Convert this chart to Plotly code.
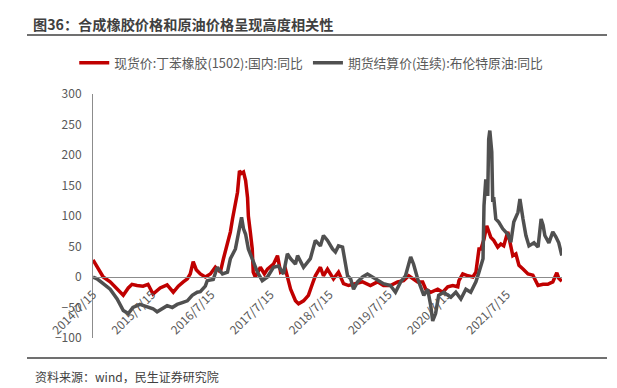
import plotly.graph_objects as go

# ---------------- data ----------------
rubber_dates = [
    "2014-07-15", "2014-08-02", "2014-08-28", "2014-09-16", "2014-10-29", "2014-12-11",
    "2015-01-18", "2015-02-18", "2015-03-13", "2015-04-13", "2015-05-20", "2015-06-20",
    "2015-07-21", "2015-09-03", "2015-10-16", "2015-11-23", "2015-12-24", "2016-01-24",
    "2016-02-18", "2016-03-07", "2016-03-25", "2016-04-13", "2016-05-08", "2016-06-08",
    "2016-07-09", "2016-08-09", "2016-09-09", "2016-09-28", "2016-10-23", "2016-11-10",
    "2016-11-23", "2016-12-11", "2016-12-24", "2017-01-05", "2017-01-18", "2017-01-30",
    "2017-02-12", "2017-02-24", "2017-03-01", "2017-03-13", "2017-03-25", "2017-03-31",
    "2017-04-13", "2017-05-14", "2017-06-08", "2017-06-27", "2017-08-03", "2017-08-28",
    "2017-09-16", "2017-10-16", "2017-11-17", "2017-12-17", "2018-01-05", "2018-02-05",
    "2018-03-07", "2018-04-01", "2018-04-19", "2018-05-20", "2018-06-08", "2018-07-03",
    "2018-07-21", "2018-08-09", "2018-09-09", "2018-10-10", "2018-11-10", "2018-12-23",
    "2019-02-05", "2019-03-25", "2019-05-08", "2019-06-14", "2019-07-27", "2019-09-09",
    "2019-10-16", "2019-11-17", "2019-12-11", "2020-01-11", "2020-02-11", "2020-03-01",
    "2020-04-01", "2020-05-14", "2020-06-14", "2020-07-15", "2020-08-15", "2020-09-15",
    "2020-09-22", "2020-10-16", "2020-11-17", "2020-12-17", "2021-01-05", "2021-01-24",
    "2021-02-05", "2021-02-24", "2021-03-13", "2021-04-07", "2021-04-25", "2021-05-20",
    "2021-06-08", "2021-06-26", "2021-07-21", "2021-08-09", "2021-08-21", "2021-09-09",
    "2021-09-28", "2021-10-23", "2021-11-23", "2021-12-23", "2022-01-24", "2022-02-24",
    "2022-03-25", "2022-04-25", "2022-05-20", "2022-06-01", "2022-06-20",
]
rubber_yoy = [
    28, 20, 8, 0, -8, -20,
    -30, -18, -12, -14, -15, -12,
    -28, -18, -13, -25, -15, -8,
    -3, 5, 25, 12, 5, 0,
    5, 16, 8, 30, 57, 74,
    95, 123, 139, 174, 170, 172,
    158, 130, 100, 74, 46, 8,
    0, 16, 5, 13, 21, 35,
    8, 13, -20, -39, -44, -39,
    -30, -11, 2, 16, 2, 13,
    5, -3, 8, -11, -14, -11,
    -8, -14, -8, -14, -14, -8,
    -6, 2, -3, -8, -8, -20,
    -25, -20, -25, -16, -14, -16,
    -6, 5, 2, 0, 8, 46,
    46, 62, 84, 65, 60, 49,
    54, 51, 74, 49, 35, 38,
    19, 13, 5, 3, -14, -12,
    -12, -8, 7, -2, -7,
]

brent_dates = [
    "2014-07-15", "2014-08-09", "2014-09-16", "2014-10-29", "2014-12-11", "2015-01-18",
    "2015-02-18", "2015-03-19", "2015-05-01", "2015-06-14", "2015-07-21", "2015-08-15",
    "2015-09-16", "2015-10-16", "2015-11-17", "2015-12-17", "2016-01-18", "2016-02-18",
    "2016-03-19", "2016-04-19", "2016-05-08", "2016-06-08", "2016-06-20", "2016-07-27",
    "2016-08-21", "2016-09-22", "2016-10-23", "2016-11-10", "2016-12-11", "2016-12-30",
    "2017-01-18", "2017-01-30", "2017-02-12", "2017-03-01", "2017-03-25", "2017-04-26",
    "2017-05-26", "2017-06-27", "2017-08-03", "2017-09-03", "2017-10-04", "2017-10-28",
    "2017-11-17", "2017-12-17", "2017-12-30", "2018-02-05", "2018-03-19", "2018-04-19",
    "2018-05-20", "2018-06-08", "2018-07-03", "2018-08-03", "2018-08-21", "2018-09-09",
    "2018-10-04", "2018-10-16", "2018-11-04", "2018-11-23", "2018-12-11", "2019-01-05",
    "2019-02-05", "2019-03-07", "2019-04-07", "2019-05-08", "2019-06-14", "2019-07-27",
    "2019-08-27", "2019-09-28", "2019-10-28", "2019-11-29", "2019-12-17", "2020-01-11",
    "2020-01-30", "2020-02-18", "2020-03-13", "2020-04-01", "2020-04-13", "2020-05-01",
    "2020-05-20", "2020-06-20", "2020-08-03", "2020-09-03", "2020-10-04", "2020-11-04",
    "2020-12-04", "2021-01-05", "2021-01-24", "2021-02-18", "2021-02-24", "2021-03-07",
    "2021-03-19", "2021-03-25", "2021-04-01", "2021-04-13", "2021-04-19", "2021-04-25",
    "2021-05-08", "2021-05-26", "2021-06-20", "2021-07-21", "2021-08-09", "2021-08-27",
    "2021-09-22", "2021-10-04", "2021-10-23", "2021-11-10", "2021-11-29", "2021-12-30",
    "2022-01-24", "2022-02-12", "2022-02-24", "2022-03-07", "2022-04-01", "2022-04-25",
    "2022-05-14", "2022-06-01", "2022-06-20",
]
brent_yoy = [
    0, -3, -11, -20, -36, -55,
    -60, -50, -45, -48, -52, -57,
    -52, -47, -50, -45, -42, -39,
    -30, -25, -24, -15, -6, -4,
    16, 5, 8, 30, 46, 74,
    98, 79, 70, 46, 30, 8,
    -6, 0, 16, 18, 5, 38,
    30, 21, 35, 16, 30, 60,
    51, 68, 60, 46, 41, 51,
    49, 30, 2, -3, -20, -8,
    0, 5, 0, -6, -11, -14,
    -25, -8, 2, 33, 21, -3,
    -16, -30, -20, -47, -72, -60,
    -30, -25, -33, -25, -36, -20,
    -25, -8, 8, 30, 117, 160,
    133, 226, 240, 205, 123, 131,
    95, 90, 79, 70, 57, 90,
    106, 128, 95, 68, 51, 56,
    49, 95, 85, 68, 56, 74,
    66, 56, 35,
]

tick_dates = ["2014-07-15", "2015-07-15", "2016-07-15", "2017-07-15",
              "2018-07-15", "2019-07-15", "2020-07-15", "2021-07-15"]
tick_labels = ["2014/7/15", "2015/7/15", "2016/7/15", "2017/7/15",
               "2018/7/15", "2019/7/15", "2020/7/15", "2021/7/15"]

series_names = ["现货价:丁苯橡胶(1502):国内:同比", "期货结算价(连续):布伦特原油:同比"]
title_text = "图36：合成橡胶价格和原油价格呈现高度相关性"
source_text = "资料来源：wind，民生证券研究院"

# ---------------- figure ----------------
FONT = "Noto Sans CJK SC"
fig = go.Figure()
fig.add_trace(go.Scatter(x=rubber_dates, y=rubber_yoy, mode="lines", name=series_names[0],
                         line=dict(color="#C00000", width=3.5)))
fig.add_trace(go.Scatter(x=brent_dates, y=brent_yoy, mode="lines", name=series_names[1],
                         line=dict(color="#505050", width=3.5)))

fig.update_layout(
    width=617, height=388,
    margin=dict(l=93, r=55, t=94, b=50, autoexpand=False),
    paper_bgcolor="white", plot_bgcolor="white",
    font=dict(family=FONT, color="#595959", size=12),
    showlegend=True,
    legend=dict(orientation="h", x=-0.04, y=1.127, xanchor="left", yanchor="middle",
                font=dict(size=12.8, color="#595959", family=FONT),
                bgcolor="rgba(0,0,0,0)", itemwidth=30),
    xaxis=dict(type="date", range=["2014-07-15", "2022-06-21"],
               tickmode="array", tickvals=tick_dates, ticktext=tick_labels,
               tickangle=-45, showgrid=False, zeroline=False,
               showline=True, linecolor="#8c8c8c", linewidth=1,
               anchor="free", position=0.25, ticks="", ticklabelstandoff=5,
               tickfont=dict(size=12, color="#595959", family=FONT)),
    yaxis=dict(range=[-100, 300], dtick=50, tick0=-100, showgrid=False, zeroline=False,
               showline=True, linecolor="#8c8c8c", linewidth=1, ticks="",
               ticklabelstandoff=8,
               tickfont=dict(size=12, color="#595959", family=FONT)),
)

def px_x(p):
    return (p - 93) / 469.0

def px_y(p):
    return (338 - p) / 244.0

fig.add_annotation(text="<b>" + title_text + "</b>", xref="paper", yref="paper",
                   x=px_x(31), y=px_y(24), xanchor="left", yanchor="middle", showarrow=False,
                   font=dict(size=14.2, color="#404040", family=FONT))
fig.add_annotation(text=source_text, xref="paper", yref="paper",
                   x=px_x(33), y=px_y(376), xanchor="left", yanchor="middle", showarrow=False,
                   font=dict(size=12, color="#404040", family=FONT))
fig.add_shape(type="line", xref="paper", yref="paper", x0=px_x(27), x1=px_x(607),
              y0=px_y(35), y1=px_y(35), line=dict(color="#404040", width=1.3))
fig.add_shape(type="line", xref="paper", yref="paper", x0=px_x(27), x1=px_x(607),
              y0=px_y(358), y1=px_y(358), line=dict(color="#404040", width=1.3))

fig.write_html("out.html", config={"displayModeBar": False},
               post_script="document.body.style.margin='0';document.body.style.overflow='hidden';")
